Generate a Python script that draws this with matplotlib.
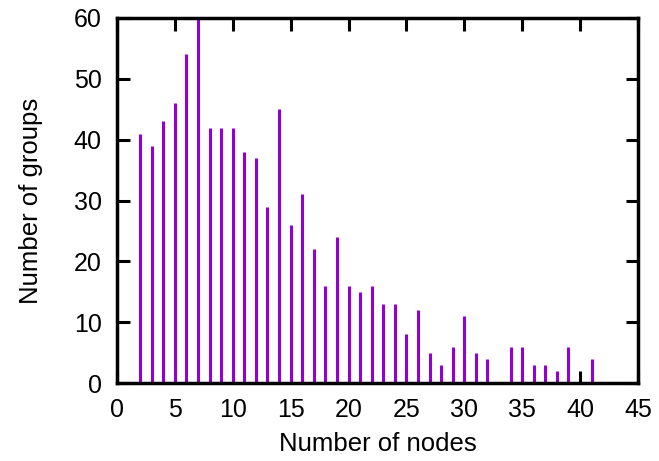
import matplotlib.pyplot as plt

plt.rcParams['font.family'] = ['Liberation Sans', 'DejaVu Sans']

# number of nodes per group -> number of groups
nodes = [2, 3, 4, 5, 6, 7, 8, 9, 10, 11, 12, 13, 14, 15, 16, 17, 18, 19, 20, 21,
         22, 23, 24, 25, 26, 27, 28, 29, 30, 31, 32, 34, 35, 36, 37, 38, 39, 41]
groups = [41, 39, 43, 46, 54, 60, 42, 42, 42, 38, 37, 29, 45, 26, 31, 22, 16, 24, 16, 15,
          16, 13, 13, 8, 12, 5, 3, 6, 11, 5, 4, 6, 6, 3, 3, 2, 6, 4]

fig = plt.figure(figsize=(6.59, 4.61), dpi=100)
ax = fig.add_axes([0.1775, 0.169, 0.7905, 0.792])

ax.vlines(nodes, 0, groups, color='#9400d3', linewidth=2.2, zorder=2.7)

ax.set_xlim(0, 45)
ax.set_ylim(0, 60)
ax.set_xticks(range(0, 46, 5))
ax.set_yticks(range(0, 61, 10))

for s in ax.spines.values():
    s.set_linewidth(2.5)
    s.set_zorder(3)
ax.tick_params(direction='in', length=9, width=2.2, top=True, right=True,
               labelsize=18, pad=11)

ax.set_xlabel('Number of nodes', fontsize=18.5, labelpad=7)
ax.set_ylabel('Number of groups', fontsize=18.5, labelpad=22)

plt.savefig('out.png', dpi=100)
